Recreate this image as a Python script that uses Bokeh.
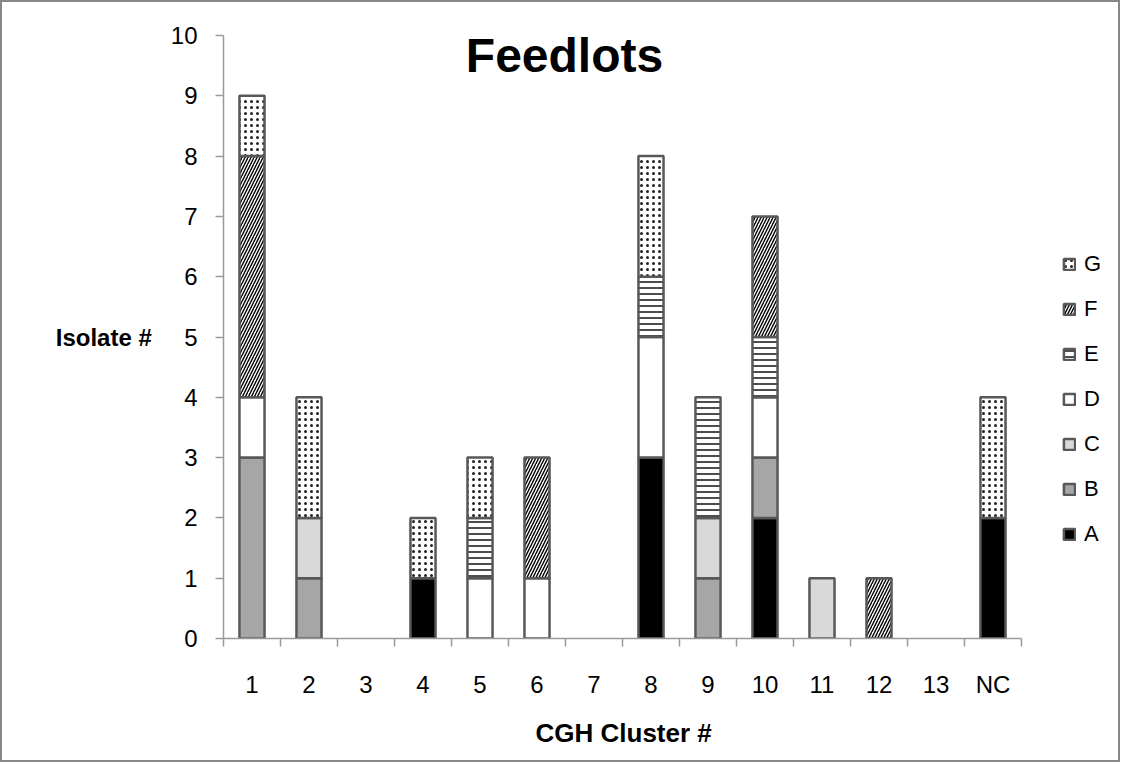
import numpy as np
from bokeh.plotting import figure
from bokeh.models import (ColumnDataSource, Range1d, FixedTicker, Legend, LegendItem, Label, Title)
from bokeh.embed import file_html
from bokeh.resources import INLINE

# ---- data ----
categories = ["1", "2", "3", "4", "5", "6", "7", "8", "9", "10", "11", "12", "13", "NC"]
series_names = ["A", "B", "C", "D", "E", "F", "G"]
A = [0, 0, 0, 1, 0, 0, 0, 3, 0, 2, 0, 0, 0, 2]
B = [3, 1, 0, 0, 0, 0, 0, 0, 1, 1, 0, 0, 0, 0]
C = [0, 1, 0, 0, 0, 0, 0, 0, 1, 0, 1, 0, 0, 0]
D = [1, 0, 0, 0, 1, 1, 0, 2, 0, 1, 0, 0, 0, 0]
E = [0, 0, 0, 0, 1, 0, 0, 1, 2, 1, 0, 0, 0, 0]
F = [4, 0, 0, 0, 0, 2, 0, 0, 0, 2, 0, 1, 0, 0]
G = [1, 2, 0, 1, 1, 0, 0, 2, 0, 0, 0, 0, 0, 2]
y_ticks = [0, 1, 2, 3, 4, 5, 6, 7, 8, 9, 10]

# ---- styles ----
styles = {
    "A": dict(fill_color="#000000", hatch_pattern=None),
    "B": dict(fill_color="#a6a6a6", hatch_pattern=None),
    "C": dict(fill_color="#d9d9d9", hatch_pattern=None),
    "D": dict(fill_color="#ffffff", hatch_pattern=None),
    "E": dict(fill_color="#ffffff", hatch_pattern="horizontal_line", hatch_scale=6, hatch_weight=1.4, hatch_color="#000000"),
    "F": dict(fill_color="#ffffff", hatch_pattern="right_diagonal_line", hatch_scale=6, hatch_weight=1.4, hatch_color="#000000"),
    "G": dict(fill_color="#ffffff", hatch_pattern="dot", hatch_scale=6, hatch_weight=1.1, hatch_color="#222222"),
}

FONT = "Liberation Sans"
n = len(categories)
CAT_PX = 57.0          # pixel width of one category slot
FIG_W, FIG_H = 1120, 762
LEFT, TOP, BOTTOM = 221, 33, 126
frame_w = FIG_W - LEFT

p = figure(width=FIG_W, height=FIG_H, output_backend="svg", toolbar_location=None,
           x_range=Range1d(0, frame_w / CAT_PX), y_range=Range1d(0, 10),
           min_border_left=LEFT, min_border_right=0, min_border_top=TOP, min_border_bottom=BOTTOM)
p.styles = {"border": "2px solid #878787"}
p.outline_line_color = None
p.xgrid.visible = False
p.ygrid.visible = False

centers = np.arange(n) + 0.5
values = [A, B, C, D, E, F, G]
bottom = np.zeros(n)
renderers = {}
for name, vals in zip(series_names, values):
    v = np.array(vals, dtype=float)
    top = bottom + v
    mask = v > 0
    src = ColumnDataSource(dict(x=centers[mask], bottom=bottom[mask], top=top[mask]))
    st = styles[name]
    kw = dict(fill_color=st["fill_color"], line_color="#585858", line_width=2.5)
    if st["hatch_pattern"]:
        kw.update(hatch_pattern=st["hatch_pattern"], hatch_scale=st["hatch_scale"],
                  hatch_weight=st["hatch_weight"], hatch_color=st["hatch_color"])
    r = p.vbar(x="x", bottom="bottom", top="top", width=0.44, source=src, **kw)
    renderers[name] = r
    bottom = top

# x axis: labels at centres, tick marks at boundaries
xa = p.xaxis[0]
xa.bounds = (0, n)
xa.ticker = FixedTicker(ticks=list(centers), minor_ticks=list(np.arange(n + 1)))
xa.major_label_overrides = {float(c): lab for c, lab in zip(centers, categories)}
xa.major_tick_out = 0
xa.major_tick_in = 0
xa.minor_tick_out = 8
xa.minor_tick_in = 0
xa.minor_tick_line_color = "#9a9a9a"
xa.minor_tick_line_width = 1.5
xa.axis_line_color = "#9a9a9a"
xa.axis_line_width = 1.5
xa.major_label_text_font = FONT
xa.major_label_text_font_size = "24px"
xa.major_label_text_color = "#000000"
xa.major_label_standoff = 24

# x axis title, aligned under the categories
p.add_layout(Title(text="CGH Cluster #", align="left", offset=312, standoff=30,
                   text_font=FONT, text_font_size="26px", text_font_style="bold",
                   text_color="#000000"), "below")

ya = p.yaxis[0]
ya.ticker = FixedTicker(ticks=y_ticks, minor_ticks=[])
ya.major_tick_out = 8
ya.major_tick_in = 0
ya.major_tick_line_color = "#9a9a9a"
ya.major_tick_line_width = 1.5
ya.axis_line_color = "#9a9a9a"
ya.axis_line_width = 1.5
ya.major_label_text_font = FONT
ya.major_label_text_font_size = "24px"
ya.major_label_text_color = "#000000"
ya.major_label_standoff = 18
ya.axis_label = "Isolate #"
ya.axis_label_orientation = "horizontal"
ya.axis_label_text_font = FONT
ya.axis_label_text_font_size = "24px"
ya.axis_label_text_font_style = "bold"
ya.axis_label_text_color = "#000000"
ya.axis_label_standoff = 16

# chart title
p.add_layout(Label(x=341, y=583, x_units="screen", y_units="screen", text="Feedlots",
                   text_font=FONT, text_font_size="48px", text_font_style="bold",
                   text_align="center", text_baseline="alphabetic", text_color="#000000"))

# legend
items = [LegendItem(label=name, renderers=[renderers[name]]) for name in reversed(series_names)]
legend = Legend(items=items, location=(839, 91), orientation="vertical",
                label_text_font=FONT, label_text_font_size="22px", label_text_color="#000000",
                glyph_width=14, glyph_height=14, label_height=24, label_standoff=8,
                spacing=19, padding=0, margin=0, border_line_color=None,
                background_fill_alpha=0)
p.add_layout(legend, "center")

open("out.html", "w").write(file_html(p, INLINE))
